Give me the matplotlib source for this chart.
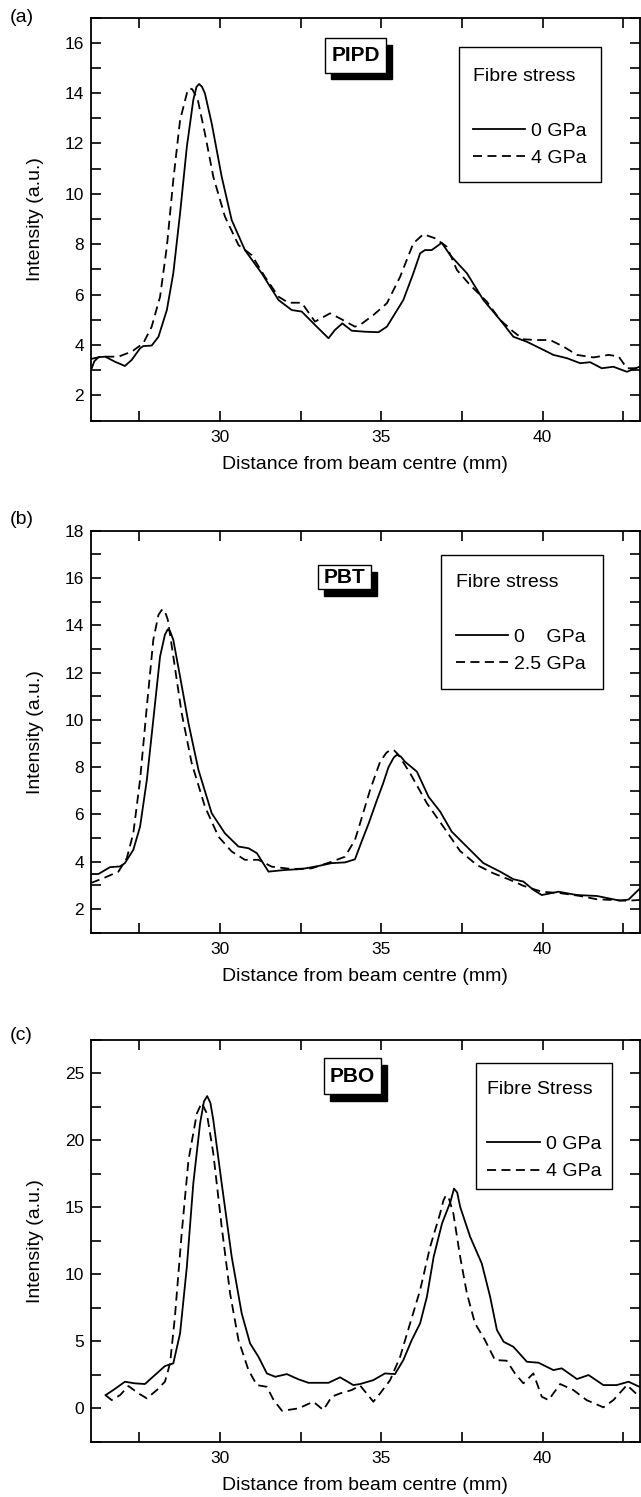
import matplotlib
matplotlib.use("Agg")
import matplotlib.pyplot as plt
import matplotlib.patches as patches
from matplotlib.lines import Line2D
from matplotlib.ticker import MultipleLocator

plt.rcParams['font.family'] = ['Liberation Sans', 'DejaVu Sans']

## Data (distance in mm, intensity in a.u.)
# (a) PIPD
pipd_0_x = [26.0, 26.1, 26.23, 26.44, 26.74, 27.05, 27.26, 27.52, 27.62, 27.88, 28.09, 28.35, 28.55, 28.76,
            28.97, 29.17, 29.27, 29.35, 29.44, 29.53, 29.74, 30.05, 30.36, 30.77, 31.29, 31.81, 32.22, 32.53,
            32.94, 33.36, 33.56, 33.79, 34.08, 34.49, 34.91, 35.17, 35.68, 35.99, 36.2, 36.35, 36.56, 36.87,
            37.13, 37.65, 38.16, 38.68, 39.09, 39.51, 40.02, 40.33, 40.75, 41.16, 41.47, 41.83, 42.19, 42.61,
            43.0]
pipd_0_y = [3.0, 3.35, 3.52, 3.54, 3.34, 3.17, 3.41, 3.87, 3.96, 3.98, 4.33, 5.39, 6.85, 9.23,
            11.87, 13.73, 14.25, 14.36, 14.25, 13.99, 12.8, 10.68, 8.96, 7.77, 6.85, 5.79, 5.39, 5.33,
            4.8, 4.27, 4.6, 4.86, 4.57, 4.53, 4.51, 4.73, 5.79, 6.85, 7.64, 7.77, 7.77, 8.06,
            7.57, 6.85, 5.79, 5.0, 4.33, 4.13, 3.81, 3.61, 3.48, 3.28, 3.32, 3.08, 3.14, 2.94,
            3.14]
pipd_4_x = [26.0, 26.33, 26.85, 27.26, 27.62, 27.88, 28.14, 28.35, 28.55, 28.76, 28.97, 29.05, 29.14, 29.31,
            29.53, 29.79, 30.15, 30.57, 30.98, 31.39, 31.81, 32.12, 32.53, 32.94, 33.41, 33.77, 34.18, 34.34,
            34.75, 35.17, 35.58, 35.99, 36.3, 36.66, 37.03, 37.34, 37.75, 38.27, 38.68, 39.09, 39.4, 39.82,
            40.23, 40.64, 41.06, 41.57, 42.04, 42.35, 42.61, 43.0]
pipd_4_y = [3.45, 3.54, 3.54, 3.74, 4.07, 4.73, 5.92, 7.9, 10.55, 12.93, 13.99, 14.19, 14.15, 13.73,
            12.4, 10.68, 9.1, 7.97, 7.57, 6.71, 5.92, 5.68, 5.68, 4.93, 5.26, 5.02, 4.73, 4.8,
            5.19, 5.66, 6.71, 8.04, 8.4, 8.24, 7.9, 6.98, 6.38, 5.72, 5.0, 4.53, 4.23, 4.2,
            4.2, 3.94, 3.61, 3.51, 3.61, 3.55, 3.08, 3.08]

# (b) PBT
pbt_0_x = [26.0, 26.23, 26.59, 26.9, 27.05, 27.31, 27.52, 27.73, 27.93, 28.14, 28.29, 28.38, 28.45, 28.55,
           28.76, 29.02, 29.33, 29.74, 30.15, 30.57, 30.88, 31.14, 31.5, 32.01, 32.53, 33.05, 33.46, 33.87,
           34.18, 34.4, 34.6, 34.86, 35.05, 35.22, 35.38, 35.48, 35.6, 35.73, 36.1, 36.46, 36.82, 37.18,
           37.54, 38.16, 38.68, 39.09, 39.4, 39.71, 39.97, 40.49, 41.06, 41.68, 42.4, 42.66, 43.0]
pbt_0_y = [3.48, 3.48, 3.77, 3.8, 3.94, 4.5, 5.48, 7.46, 10.0, 12.68, 13.6, 13.83, 13.75, 13.38,
           11.83, 9.86, 7.88, 6.05, 5.2, 4.64, 4.57, 4.36, 3.58, 3.65, 3.69, 3.82, 3.94, 3.97,
           4.1, 4.9, 5.6, 6.6, 7.3, 8.0, 8.4, 8.52, 8.45, 8.23, 7.81, 6.75, 6.12, 5.27,
           4.78, 3.94, 3.58, 3.26, 3.16, 2.81, 2.59, 2.73, 2.59, 2.55, 2.35, 2.4, 2.85]
pbt_25_x = [26.0, 26.43, 26.85, 27.11, 27.31, 27.52, 27.73, 27.93, 28.09, 28.21, 28.3, 28.38, 28.55, 28.81,
            29.12, 29.53, 29.95, 30.36, 30.77, 31.19, 31.6, 32.22, 32.84, 33.46, 33.87, 34.18, 34.34, 34.65,
            34.96, 35.15, 35.27, 35.4, 35.53, 35.89, 36.41, 36.92, 37.44, 37.96, 38.47, 38.99, 39.4, 39.97,
            40.54, 41.16, 41.68, 42.19, 42.61, 43.0]
pbt_25_y = [3.1, 3.33, 3.58, 4.15, 5.2, 7.46, 10.56, 13.38, 14.44, 14.68, 14.55, 14.23, 12.68, 10.28,
            8.17, 6.33, 5.06, 4.43, 4.08, 4.08, 3.79, 3.69, 3.72, 4.0, 4.21, 4.92, 5.63, 7.04,
            8.23, 8.6, 8.73, 8.7, 8.52, 7.74, 6.47, 5.48, 4.45, 3.86, 3.51, 3.23, 2.98, 2.73,
            2.67, 2.55, 2.41, 2.38, 2.35, 2.38]

# (c) PBO
pbo_0_x = [26.45, 26.69, 27.05, 27.36, 27.67, 27.98, 28.29, 28.55, 28.76, 28.97, 29.17, 29.38, 29.5, 29.6,
           29.7, 29.79, 30.05, 30.36, 30.67, 30.93, 31.19, 31.45, 31.71, 32.07, 32.43, 32.74, 33.36, 33.72,
           34.13, 34.34, 34.75, 35.11, 35.42, 35.68, 35.94, 36.2, 36.41, 36.62, 36.88, 37.14, 37.25, 37.35,
           37.44, 37.75, 38.11, 38.37, 38.58, 38.79, 39.09, 39.51, 39.87, 40.33, 40.59, 41.06, 41.42, 41.88,
           42.29, 42.66, 43.0]
pbo_0_y = [0.98, 1.36, 1.98, 1.86, 1.81, 2.48, 3.15, 3.35, 5.59, 10.56, 16.78, 21.26, 22.9, 23.3,
           22.8, 21.51, 16.78, 11.31, 7.08, 4.84, 3.84, 2.6, 2.35, 2.55, 2.16, 1.9, 1.9, 2.31,
           1.73, 1.81, 2.1, 2.6, 2.55, 3.6, 5.09, 6.34, 8.32, 11.31, 13.8, 15.41, 16.4, 16.1,
           15.04, 12.8, 10.81, 8.32, 5.84, 4.96, 4.59, 3.47, 3.4, 2.85, 2.98, 2.18, 2.48, 1.73,
           1.73, 1.98, 1.6]
pbo_4_x = [26.45, 26.64, 26.9, 27.16, 27.47, 27.73, 28.04, 28.29, 28.45, 28.6, 28.81, 29.02, 29.28, 29.43,
           29.59, 29.79, 30.05, 30.31, 30.57, 30.88, 31.14, 31.45, 31.66, 31.92, 32.43, 32.89, 33.2, 33.46,
           33.72, 34.08, 34.34, 34.75, 34.96, 35.27, 35.58, 35.89, 36.2, 36.51, 36.82, 36.92, 37.0, 37.1,
           37.23, 37.44, 37.65, 37.9, 38.21, 38.52, 38.88, 39.14, 39.4, 39.71, 39.97, 40.18, 40.54, 40.95,
           41.36, 41.88, 42.19, 42.61, 43.0]
pbo_4_y = [0.98, 0.61, 0.98, 1.66, 1.11, 0.74, 1.36, 1.98, 3.35, 6.83, 13.05, 18.52, 22.0, 22.8,
           22.0, 19.02, 13.54, 8.57, 5.09, 2.85, 1.73, 1.6, 0.61, -0.19, -0.01, 0.49, -0.13, 0.86,
           1.11, 1.36, 1.7, 0.49, 1.11, 2.1, 3.84, 6.34, 8.82, 12.05, 14.54, 15.5, 15.9, 15.6,
           14.54, 11.31, 8.57, 6.34, 5.09, 3.6, 3.55, 2.6, 1.86, 2.6, 0.86, 0.61, 1.81, 1.36,
           0.61, 0.07, 0.61, 1.73, 0.86]

panel_tags = ["(a)", "(b)", "(c)"]
materials = ["PIPD", "PBT", "PBO"]
legend_titles = ["Fibre stress", "Fibre stress", "Fibre Stress"]
stress_labels = [["0 GPa", "4 GPa"], ["0    GPa", "2.5 GPa"], ["0 GPa", "4 GPa"]]
series = [(pipd_0_x, pipd_0_y, pipd_4_x, pipd_4_y),
          (pbt_0_x, pbt_0_y, pbt_25_x, pbt_25_y),
          (pbo_0_x, pbo_0_y, pbo_4_x, pbo_4_y)]
ylims = [(1, 17), (1, 18), (-2.5, 27.5)]
ymajor = [2, 2, 5]

# layout (figure / axes fractions)
axes_rect = [[0.1420, 0.7190, 0.8557, 0.2693],
             [0.1420, 0.3770, 0.8557, 0.2685],
             [0.1420, 0.0369, 0.8557, 0.2685]]
tag_y = [0.9883, 0.6530, 0.3083]
name_box = [(0.4266, 0.8631, 0.1118, 0.0853),
            (0.4139, 0.8544, 0.0966, 0.0605),
            (0.4248, 0.8642, 0.1039, 0.0903)]
leg_box = [(0.6709, 0.5920, 0.2583, 0.3341),
           (0.6376, 0.6064, 0.2959, 0.3334),
           (0.7025, 0.6279, 0.2474, 0.3134)]
leg_anchor = [(0.6959, 0.8747), (0.6651, 0.8922), (0.7225, 0.8965)]

lw = 1.3
dash = (0, (5, 3))

fig = plt.figure(figsize=(6.41, 14.97), dpi=100)

for i in range(3):
    ax = fig.add_axes(axes_rect[i])
    x0, y0, x1, y1 = series[i]
    ax.plot(x0, y0, color="black", lw=lw, solid_joinstyle="round")
    ax.plot(x1, y1, color="black", lw=lw, linestyle=dash)

    ax.set_xlim(26, 43)
    ax.set_ylim(*ylims[i])
    ax.xaxis.set_major_locator(MultipleLocator(5))
    ax.xaxis.set_minor_locator(MultipleLocator(2.5))
    ax.yaxis.set_major_locator(MultipleLocator(ymajor[i]))
    ax.yaxis.set_minor_locator(MultipleLocator(ymajor[i] / 2))
    ax.tick_params(which="both", direction="in", top=True, right=True, length=7, width=1.2)
    ax.tick_params(axis="x", labelsize=12.5, pad=7)
    ax.tick_params(axis="y", labelsize=12.5, pad=5)
    for s in ax.spines.values():
        s.set_linewidth(1.3)

    ax.set_xlabel("Distance from beam centre (mm)", fontsize=14)
    ax.set_ylabel("Intensity (a.u.)", fontsize=14)
    ax.xaxis.set_label_coords(0.5, -0.088)
    ax.yaxis.set_label_coords(-0.086, 0.5)

    # material name box with drop shadow
    bx, by, bw, bh = name_box[i]
    ax.add_patch(patches.Rectangle((bx + 0.011, by - 0.0165), bw, bh, transform=ax.transAxes,
                                   facecolor="black", edgecolor="black", zorder=5))
    ax.add_patch(patches.Rectangle((bx, by), bw, bh, transform=ax.transAxes,
                                   facecolor="white", edgecolor="black", lw=1.0, zorder=6))
    ax.text(bx + bw / 2, by + bh / 2, materials[i], transform=ax.transAxes, ha="center", va="center",
            fontsize=15, fontweight="bold", zorder=7)

    # legend
    lx, ly, lwid, lh = leg_box[i]
    ax.add_patch(patches.Rectangle((lx, ly), lwid, lh, transform=ax.transAxes,
                                   facecolor="white", edgecolor="black", lw=1.0, zorder=5))
    handles = [Line2D([], [], color="black", lw=lw),
               Line2D([], [], color="black", lw=lw, linestyle=dash)]
    leg = ax.legend(handles, stress_labels[i], title=legend_titles[i] + "\n", loc="upper left",
                    bbox_to_anchor=leg_anchor[i], frameon=False, borderpad=0, borderaxespad=0,
                    fontsize=14, title_fontsize=14, handlelength=2.7, handletextpad=0.3,
                    labelspacing=0.5, alignment="left")
    leg.get_title().set_linespacing(1.8)
    leg.set_zorder(8)

    fig.text(0.0156, tag_y[i], panel_tags[i], fontsize=14, ha="left", va="center")

fig.savefig("out.png", dpi=100)
